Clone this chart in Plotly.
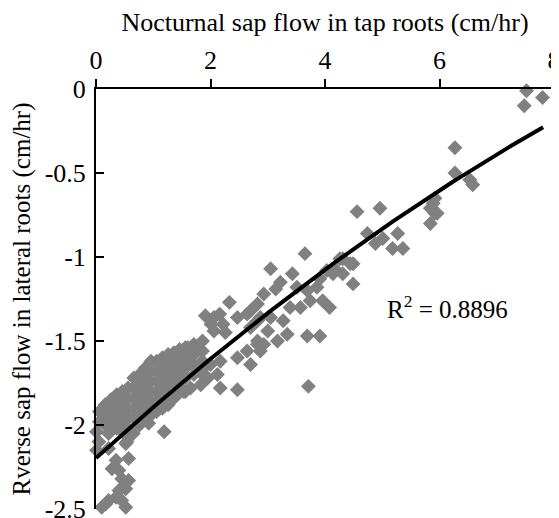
import numpy as np
import plotly.graph_objects as go

# Nocturnal sap flow in tap roots (cm/hr)
tap_x = [
    7.52, 7.48, 7.80, 6.27, 6.27, 6.53, 6.58, 5.92, 5.89, 5.84, 5.96, 5.84, 5.92,
    4.56, 4.96, 4.74, 4.88, 5.01, 5.27, 5.18, 5.36, 4.31, 4.49, 4.31, 4.49, 4.26,
    4.44, 4.17, 3.65, 3.05, 3.43, 3.22, 3.14, 2.93, 2.82, 2.70, 3.51, 3.69, 3.86,
    3.91, 4.03, 4.14, 3.74, 3.96, 4.08, 3.57, 3.39, 3.27, 3.05, 2.87, 3.34, 3.17,
    3.69, 3.91, 2.82, 2.70, 3.71,
    2.06, 2.22, 2.06, 2.47, 2.64, 2.82, 3.00, 2.93, 2.82, 2.64, 2.47, 2.70, 2.87,
    1.60, 1.77, 1.65, 1.42, 1.88, 2.00, 2.17, 2.12, 1.95, 1.83, 1.65, 1.53, 1.42,
    2.17, 2.47, 1.30, 1.30, 2.33, 1.91, 2.01, 2.16, 2.26,
    0.01, 0.22, 0.45, 0.75, 0.92, 1.19, 0.05, 0.01, 0.22, 0.52, 0.57, 0.35, 0.28,
    0.40, 0.45, 0.57, 0.52, 0.40, 0.35, 0.22, 0.17, 0.10, 0.45, 0.52, 0.54, 0.65,
    0.06, 0.06, 0.16, 0.16, 0.16, 0.26, 0.26, 0.26,
    0.36, 0.36, 0.36, 0.36, 0.46, 0.46, 0.46, 0.46, 0.46,
    0.56, 0.56, 0.56, 0.56, 0.56, 0.66, 0.66, 0.66, 0.66, 0.66,
    0.76, 0.76, 0.76, 0.76, 0.76, 0.76, 0.86, 0.86, 0.86, 0.86, 0.86, 0.86,
    0.96, 0.96, 0.96, 0.96, 0.96, 0.96, 1.06, 1.06, 1.06, 1.06, 1.06, 1.06,
    1.16, 1.16, 1.16, 1.16, 1.16, 1.16, 1.26, 1.26, 1.26, 1.26, 1.26, 1.26,
    1.36, 1.36, 1.36, 1.36, 1.36, 1.46, 1.46, 1.46, 1.46, 1.46,
    1.56, 1.56, 1.56, 1.56, 1.56, 1.71, 1.71, 1.71, 1.71,
    1.86, 1.86, 1.86, 1.86,
]

# Reverse sap flow in lateral roots (cm/hr)
lateral_y = [
    -0.01, -0.10, -0.05, -0.35, -0.50, -0.54, -0.57, -0.65, -0.68, -0.71, -0.74, -0.80, -0.74,
    -0.73, -0.71, -0.86, -0.92, -0.89, -0.86, -0.95, -0.95, -1.01, -1.04, -1.10, -1.16, -1.01,
    -1.04, -1.07, -0.98, -1.07, -1.10, -1.15, -1.19, -1.22, -1.28, -1.32, -1.18, -1.20, -1.18,
    -1.13, -1.08, -1.10, -1.26, -1.26, -1.30, -1.30, -1.30, -1.38, -1.36, -1.36, -1.46, -1.50,
    -1.47, -1.47, -1.50, -1.42, -1.77,
    -1.36, -1.40, -1.44, -1.36, -1.34, -1.38, -1.44, -1.52, -1.52, -1.56, -1.60, -1.64, -1.56,
    -1.54, -1.56, -1.62, -1.66, -1.66, -1.64, -1.62, -1.70, -1.72, -1.76, -1.78, -1.80, -1.82,
    -1.78, -1.79, -1.60, -1.72, -1.27, -1.35, -1.40, -1.34, -1.45,
    -2.04, -2.05, -1.99, -1.99, -1.99, -2.04, -2.10, -2.15, -2.14, -2.11, -2.20, -2.21, -2.26,
    -2.27, -2.32, -2.33, -2.38, -2.39, -2.43, -2.45, -2.47, -2.49, -2.45, -2.49, -2.10, -2.05,
    -1.92, -1.98, -1.88, -1.95, -2.00, -1.85, -1.92, -1.98,
    -1.82, -1.88, -1.95, -2.02, -1.80, -1.86, -1.92, -1.98, -2.04,
    -1.78, -1.84, -1.90, -1.96, -2.02, -1.72, -1.78, -1.84, -1.90, -1.96,
    -1.70, -1.76, -1.82, -1.88, -1.94, -2.00, -1.66, -1.72, -1.78, -1.84, -1.90, -1.96,
    -1.62, -1.68, -1.74, -1.80, -1.86, -1.94, -1.62, -1.68, -1.74, -1.80, -1.86, -1.92,
    -1.60, -1.66, -1.72, -1.78, -1.84, -1.90, -1.58, -1.64, -1.70, -1.76, -1.82, -1.88,
    -1.57, -1.63, -1.69, -1.75, -1.84, -1.55, -1.62, -1.68, -1.74, -1.80,
    -1.54, -1.60, -1.66, -1.72, -1.80, -1.52, -1.58, -1.64, -1.70,
    -1.50, -1.56, -1.62, -1.70,
]

# Polynomial trendline (order 2) as drawn in the chart: c2*x^2 + c1*x + c0
trend_coef = [-0.0074, 0.310, -2.197]
trend_x_range = [0.0, 7.81]

x_ticks = [0, 2, 4, 6, 8]
y_ticks = [-2.5, -2, -1.5, -1, -0.5, 0]
r2_label = "R<sup>2</sup> = 0.8896"

fx = np.linspace(trend_x_range[0], trend_x_range[1], 200)
fy = np.polyval(trend_coef, fx)

font = "Liberation Serif, Times New Roman, serif"

fig = go.Figure()
fig.add_trace(go.Scatter(
    x=tap_x, y=lateral_y, mode="markers",
    marker=dict(symbol="diamond", size=11.5, color="#808080", line=dict(width=0)),
    showlegend=False, cliponaxis=False,
))
fig.add_trace(go.Scatter(
    x=fx, y=fy, mode="lines", line=dict(color="black", width=4),
    showlegend=False,
))
fig.add_annotation(x=5.05, y=-1.296, text=r2_label, showarrow=False,
                   xanchor="left", yanchor="middle",
                   font=dict(family=font, size=25, color="black"))

fig.update_layout(
    width=559, height=518,
    margin=dict(l=88, r=13, t=81, b=17, autoexpand=False),
    paper_bgcolor="white", plot_bgcolor="white",
    font=dict(family=font, size=26, color="black"),
    xaxis=dict(
        side="top", range=[0, 8], tickvals=x_ticks, ticktext=[str(v) for v in x_ticks],
        showgrid=False, zeroline=False, showline=True, linecolor="black", linewidth=2,
        ticks="outside", ticklen=8, tickwidth=2, tickcolor="black",
        automargin=False, ticklabeloverflow="allow",
        title=dict(text="Nocturnal sap flow in tap roots (cm/hr)", standoff=6,
                   font=dict(family=font, size=26)),
        tickfont=dict(family=font, size=26),
    ),
    yaxis=dict(
        range=[-2.5, 0], tickvals=y_ticks, ticktext=[("%g" % v) for v in y_ticks],
        showgrid=False, zeroline=False, showline=True, linecolor="black", linewidth=2,
        ticks="inside", ticklen=8, tickwidth=2, tickcolor="black",
        ticklabelstandoff=3, automargin=False, ticklabeloverflow="allow",
        title=dict(text="Rverse sap flow in lateral roots (cm/hr)", standoff=7,
                   font=dict(family=font, size=25)),
        tickfont=dict(family=font, size=26),
    ),
)

fig.write_html("out.html")
